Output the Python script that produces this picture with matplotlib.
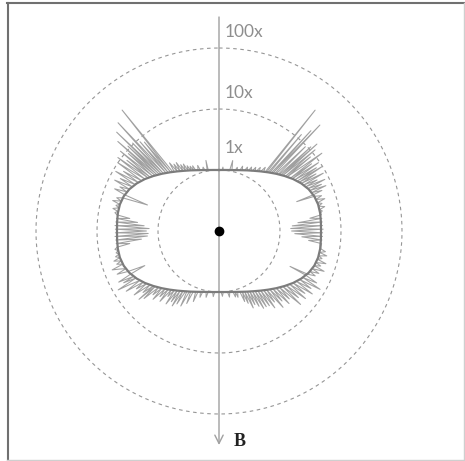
import numpy as np
import matplotlib
matplotlib.use('Agg')
import matplotlib.pyplot as plt
from matplotlib.lines import Line2D
from matplotlib.ticker import NullLocator

# theory curve, one quadrant (angle from B axis in degrees, enhancement factor)
theory_deg = [0, 5, 10, 15, 20, 25, 30, 35, 40, 45, 50, 55, 60, 65, 70, 75, 80, 85, 90]
theory_val = [1.00, 1.01, 1.035, 1.08, 1.15, 1.25, 1.38, 1.56, 1.80, 2.12, 2.53,
              3.05, 3.62, 4.18, 4.60, 4.81, 4.83, 4.75, 4.70]

q1_deg = [0, 3, 3.5, 4, 10, 11, 12, 15, 16, 17, 19, 20, 21, 23, 24, 25, 26, 27, 28, 29,
          30, 31, 32, 33, 34, 35, 36, 37, 38, 38.5, 39, 40, 40.5, 41, 42, 42.5, 43, 43.6, 44.2,
          45, 45.7, 46.3, 47, 47.5, 48, 48.4, 49, 49.8, 50.5, 51, 51.5, 52.9, 53.5, 54, 54.5,
          55.5, 56, 57, 57.5, 58, 58.7, 59.5, 60, 61, 61.5, 62.5, 63, 64, 64.5, 65.5, 66, 67,
          67.5, 68.5, 69, 69.3, 70, 71, 72, 73, 74, 75, 76, 77, 78, 79, 80, 81, 82, 83, 84,
          85, 86, 87, 88, 89]
q1_val = [1.00, 1.01, 1.12, 1.01, 1.035, 1.5, 1.045, 1.08, 1.22, 1.10, 1.13, 1.35, 1.17, 1.21, 1.4, 1.25, 1.28, 1.5, 1.32, 1.35,
          1.6, 1.41, 1.45, 1.75, 1.52, 1.56, 1.95, 1.65, 1.70, 34, 1.74, 1.80, 12, 1.86, 1.93, 17, 2.0, 25, 2.07,
          2.13, 9.5, 2.22, 2.28, 11, 2.37, 14, 2.45, 11.5, 2.58, 8.5, 2.68, 13, 2.88, 7.5, 2.99,
          9.5, 3.16, 8, 3.33, 10, 3.48, 7, 3.62, 9, 3.79, 6.5, 3.96, 8.5, 4.12, 7, 4.27, 8,
          4.39, 6.5, 4.52, 2.3, 4.6, 6.0, 4.68, 6.5, 4.77, 5.6, 4.82, 6.0, 4.85, 5.3, 4.9, 5.0, 3.2, 5.0, 2.0,
          5.0, 1.6, 5.0, 1.5, 5.1]

q2_deg = [90, 91, 92, 93, 94, 95, 96, 97, 99, 100, 101, 102, 103, 104, 105, 106, 107, 108, 109,
          110, 111, 112, 113, 114, 115, 116, 116.5, 117, 118, 119, 120, 121, 122, 123, 124, 125, 126, 127, 128, 129,
          130, 131, 132, 133, 134, 135, 136, 137, 138, 139, 140, 141, 142, 143, 144, 145, 146, 147, 148, 149,
          150, 151, 152, 153, 154, 155, 156, 157, 158, 159, 160, 161, 163, 164, 165, 166, 167, 170, 171, 172, 176, 177, 178]
q2_val = [1.55, 5.0, 1.75, 5.0, 2.3, 4.95, 3.0, 4.95, 4.9, 5.0, 6.0, 4.85, 6.5, 4.85, 5.6, 4.78, 6.8, 4.7, 5.8,
          4.62, 7.0, 4.45, 6.0, 4.3, 5.5, 4.12, 2.0, 4.0, 6.5, 3.75, 8.2, 3.55, 6.0, 3.3, 7.0, 3.08, 5.5, 2.85, 6.3, 2.65,
          5.0, 2.48, 6.3, 2.3, 4.0, 2.16, 4.5, 2.0, 3.5, 1.88, 4.3, 1.76, 3.0, 1.68, 3.6, 1.58, 3.0, 1.5, 2.9, 1.42,
          2.9, 1.36, 2.5, 1.31, 2.2, 1.27, 2.4, 1.22, 1.9, 1.18, 1.7, 1.15, 1.11, 1.35, 1.08, 1.3, 1.07, 1.035, 1.25, 1.03, 1.01, 1.18, 1.0]

q3_deg = [180, 184, 185, 186, 190, 191, 192, 195, 196, 197, 199, 200, 201, 203, 204, 205, 206, 207, 208, 209,
          210, 211, 212, 213, 214, 215, 216, 217, 218, 219, 220, 221, 222, 223, 224, 225, 226, 227, 228, 229,
          229.5, 230, 231, 232, 233, 234, 235, 236, 237, 238, 239, 239.7, 240.5, 241.5, 242, 243, 244, 245, 246, 247,
          248, 249, 250, 251, 252, 253, 254, 255, 256, 257, 258, 259, 260, 261, 262, 263, 264, 265, 266, 267, 268, 269]
q3_val = [1.0, 1.01, 1.2, 1.01, 1.035, 1.28, 1.045, 1.08, 1.35, 1.1, 1.13, 1.7, 1.17, 1.21, 2.0, 1.25, 1.28, 2.4, 1.32, 1.35,
          2.4, 1.41, 2.8, 1.49, 2.5, 1.56, 3.0, 1.66, 2.3, 1.75, 3.2, 1.85, 2.8, 1.98, 3.6, 2.12, 3.2, 2.29, 4.5, 2.45,
          5.3, 2.53, 4.0, 2.7, 5.5, 2.95, 4.5, 3.16, 6.5, 3.4, 5.0, 8.2, 3.68, 6.0, 3.85, 7.0, 4.07, 2.2, 4.27, 6.5,
          4.43, 5.5, 7.3, 4.64, 5.8, 4.75, 6.2, 4.8, 5.6, 4.82, 5.3, 4.85, 5.4, 4.9, 3.0, 5.0, 1.9, 5.0, 1.5, 5.1, 1.45, 5.0]

q4_deg = [270, 271, 272, 273, 274, 275, 276, 277, 278, 279, 280, 281, 282, 283, 284, 285, 286, 287, 288, 289,
          290, 291, 292, 293, 294, 295, 296, 297, 298, 299, 300, 301, 302, 303, 304, 305, 306, 306.8, 307.5, 308,
          309, 309.6, 310.5, 311, 311.5, 312.2, 313, 313.5, 314, 314.7, 315.5, 316, 317, 317.6, 318.5, 319, 320, 320.6, 321.3, 322,
          323, 324, 325, 326, 327, 328, 329, 330, 331, 332, 333, 334, 335, 336, 337, 338, 339, 341, 342, 343,
          345, 346, 347, 349, 349.5, 350, 355, 358]
q4_val = [1.55, 5.0, 1.4, 5.1, 1.7, 5.0, 2.2, 4.95, 3.0, 4.95, 5.4, 4.9, 6.0, 4.85, 5.5, 4.82, 6.5, 4.75, 5.8, 4.65,
          1.77, 4.53, 7.0, 4.4, 6.0, 4.18, 8.0, 3.95, 6.8, 3.73, 9.0, 3.5, 7.0, 3.27, 10.0, 3.05, 11.2, 2.85, 8.0, 2.7,
          12.0, 2.56, 9.0, 2.45, 16.4, 2.35, 11.0, 2.22, 21.5, 2.14, 10.5, 2.06, 26.7, 1.95, 9.0, 1.85, 8.0, 1.77, 34.7, 1.70,
          1.66, 2.4, 1.56, 2.1, 1.49, 2.1, 1.41, 1.8, 1.35, 1.75, 1.29, 1.55, 1.25, 1.45, 1.21, 1.42, 1.17, 1.14, 1.35, 1.1,
          1.08, 1.2, 1.06, 1.045, 1.5, 1.035, 1.01, 1.0]

ring_vals = [1, 10, 100]
ring_labels = ['1x', '10x', '100x']

# ---- build full curves ----
td = np.array(theory_deg, dtype=float)
tv = np.array(theory_val)
th_deg = np.concatenate([td, 180 - td[::-1][1:], 180 + td[1:], 360 - td[::-1][1:]])
th_val = np.concatenate([tv, tv[::-1][1:], tv[1:], tv[::-1][1:]])

data_deg = np.array(q1_deg + q2_deg + q3_deg + q4_deg + [360.0])
data_val = np.array(q1_val + q2_val + q3_val + q4_val + [q1_val[0]])

W, H = 465, 461
CX, CY = 219, 231     # centre in pixels (from top-left)
DEC = 61              # pixels per decade
R_PX = 218            # axes radius in pixels
RMIN = 0.1

fig = plt.figure(figsize=(W / 100, H / 100), dpi=100)
ax = fig.add_axes([(CX - R_PX) / W, (H - CY - R_PX) / H, 2 * R_PX / W, 2 * R_PX / H],
                  projection='polar')
ax.set_theta_zero_location('N')
ax.set_theta_direction(-1)
ax.set_rscale('log')
ax.set_rlim(RMIN, RMIN * 10 ** (R_PX / DEC))
ax.grid(False)
ax.set_xticks([])
ax.set_yticks([])
ax.yaxis.set_minor_locator(NullLocator())
ax.tick_params(which='both', length=0, labelleft=False, labelbottom=False)
ax.spines['polar'].set_visible(False)
ax.patch.set_alpha(0)

# dashed reference rings
circ = np.linspace(0, 2 * np.pi, 721)
for v in ring_vals:
    ax.plot(circ, np.full_like(circ, v), color='#969696', lw=0.8, ls=(0, (3.2, 3.2)))

# B axis with arrow
r_end = RMIN * 10 ** (214 / DEC)
ax.annotate('', xy=(np.pi, r_end), xytext=(0, r_end),
            arrowprops=dict(arrowstyle='->,head_length=0.6,head_width=0.3', color='#a0a0a0',
                            lw=1.0, shrinkA=0, shrinkB=0),
            annotation_clip=False)
ax.annotate('B', xy=(np.pi, r_end), xytext=(15, 4), textcoords='offset pixels',
            ha='left', va='center', fontsize=13, family='Liberation Serif',
            weight='bold', color='#222222', annotation_clip=False)

ring_dy = [22, 16, 16]
for v, lbl, dy in zip(ring_vals, ring_labels, ring_dy):
    ax.annotate(lbl, xy=(0, v), xytext=(6, dy), textcoords='offset pixels',
                ha='left', va='center', fontsize=12.5, family='Lato', weight='normal',
                color='#8e8e8e')

# measured trace and theory
ax.plot(np.deg2rad(data_deg), data_val, color='#a0a0a0', lw=0.75, zorder=3)
ax.plot(np.deg2rad(th_deg), th_val, color='#7c7c7c', lw=1.6, zorder=4)

ax.plot([0], [RMIN], 'o', color='black', ms=6, clip_on=False, zorder=5)

# picture frame
fig.add_artist(Line2D([7.5 / W, 7.5 / W], [1 - 3 / H, 1 - 460 / H], color='#707070', lw=1.5))
fig.add_artist(Line2D([7 / W, 464 / W], [1 - 3.5 / H, 1 - 3.5 / H], color='#707070', lw=1.5))
fig.add_artist(Line2D([463.5 / W, 463.5 / W], [1 - 3 / H, 1 - 460 / H], color='#cfcfcf', lw=1))
fig.add_artist(Line2D([7 / W, 464 / W], [1 - 459.5 / H, 1 - 459.5 / H], color='#cfcfcf', lw=1))

fig.savefig('out.png', dpi=100)
